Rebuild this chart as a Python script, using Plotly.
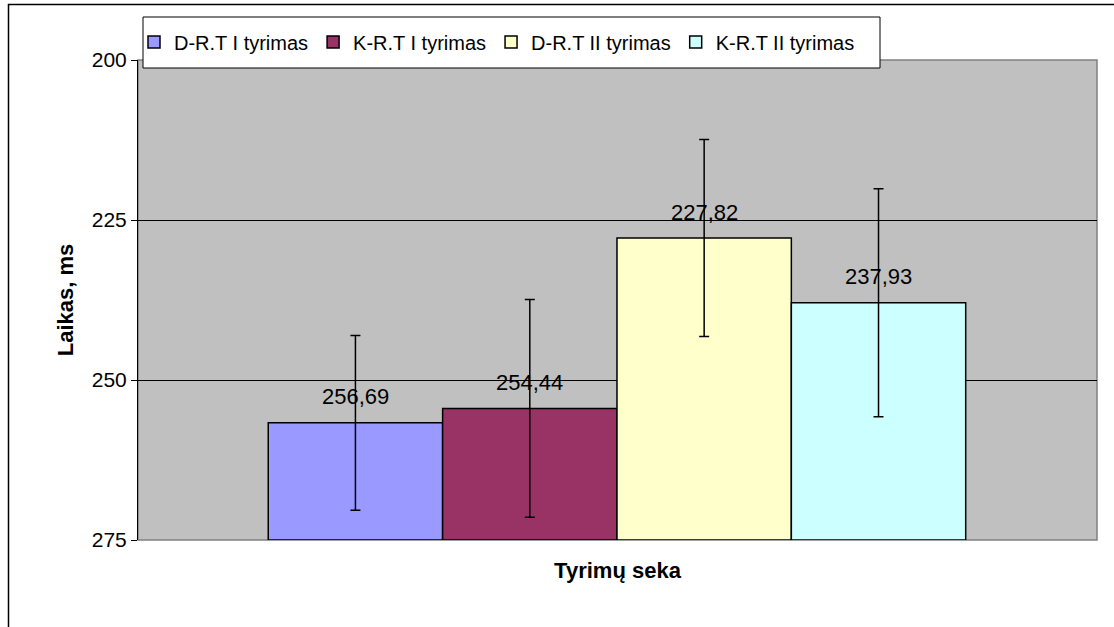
import plotly.graph_objects as go

# data
series = ["D-R.T I tyrimas", "K-R.T I tyrimas", "D-R.T II tyrimas", "K-R.T II tyrimas"]
values = [256.69, 254.44, 227.82, 237.93]
errors = [13.65, 17.0, 15.4, 17.8]
colors = ["#9999FF", "#993366", "#FFFFCC", "#CCFFFF"]
y_ticks = [200, 225, 250, 275]

base = max(y_ticks)
font = "Arial, Liberation Sans, sans-serif"

fig = go.Figure()

for i, (name, v, c) in enumerate(zip(series, values, colors)):
    fig.add_trace(go.Bar(
        x=[i], y=[v - base], base=[base], width=1, name=name,
        marker=dict(color=c, line=dict(color="black", width=1.5)),
        hoverinfo="skip",
    ))

# error bars drawn on top of the bars
fig.add_trace(go.Scatter(
    x=list(range(len(values))), y=values, mode="markers",
    marker=dict(size=1, opacity=0), showlegend=False, hoverinfo="skip",
    error_y=dict(type="data", array=errors, symmetric=True,
                 color="black", thickness=1.5, width=5),
))

# value labels with decimal comma
for i, v in enumerate(values):
    fig.add_annotation(x=i, y=v, text=f"{v:.2f}".replace(".", ","),
                       showarrow=False, yshift=26, yanchor="middle",
                       font=dict(size=22, color="black", family=font))

W, H = 1114, 627
L, R, T, B = 138, 17, 60, 87
pw, ph = W - L - R, H - T - B

def px_x(x):
    return (x - L) / pw

def px_y(y):
    return 1 - (y - T) / ph

fig.update_layout(
    width=W, height=H,
    margin=dict(l=L, r=R, t=T, b=B),
    paper_bgcolor="white", plot_bgcolor="#C0C0C0",
    font=dict(family=font, color="black"),
    showlegend=True,
    legend=dict(orientation="h", x=px_x(134), y=px_y(42), xanchor="left", yanchor="middle",
                bgcolor="rgba(0,0,0,0)", borderwidth=0,
                font=dict(size=20), itemwidth=30, traceorder="normal"),
    xaxis=dict(range=[-1.247, 4.253], showticklabels=False, ticks="",
               showgrid=False, zeroline=False,
               title=dict(text="<b>Tyrimų seka</b>", font=dict(size=22), standoff=22)),
    yaxis=dict(range=[275, 200], tickvals=y_ticks, ticks="outside", ticklen=6,
               tickcolor="black", showline=True, linecolor="black", linewidth=1,
               gridcolor="black", gridwidth=1, zeroline=False,
               tickfont=dict(size=21),
               title=dict(text="<b>Laikas, ms</b>", font=dict(size=22), standoff=12)),
    shapes=[
        dict(type="rect", xref="paper", yref="paper", x0=0, x1=1, y0=0, y1=1,
             line=dict(color="#808080", width=1.5), layer="below"),
        dict(type="rect", xref="paper", yref="paper", x0=px_x(8.5), x1=1.1, y0=-0.3, y1=px_y(4.5),
             line=dict(color="black", width=1.5)),
        # legend box
        dict(type="rect", xref="paper", yref="paper", x0=px_x(143), x1=px_x(880),
             y0=px_y(68), y1=px_y(17), fillcolor="white",
             line=dict(color="black", width=1), layer="above"),
    ],
)

fig.write_html("out.html", config={"displayModeBar": False},
               post_script="document.body.style.margin='0';")
